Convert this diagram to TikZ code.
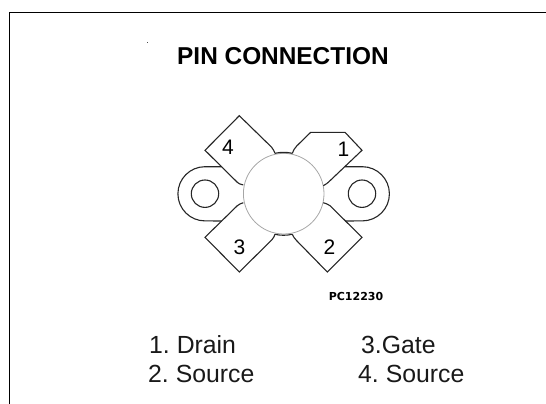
\documentclass[tikz,border=0pt]{standalone}
\usepackage{fontspec}
\setmainfont{Liberation Sans}
\newfontfamily\codefont{DejaVu Sans}
\frenchspacing
\tikzset{
    outline/.style={line width=1.1pt, black!85},
    pinlabel/.style={font=\fontsize{21}{21}\selectfont, inner sep=0pt},
    legend/.style={font=\fontsize{24.8}{24.8}\selectfont, inner sep=0pt, anchor=base west, black!90}
}
\begin{document}
\begin{tikzpicture}[x=1pt, y=-1pt]
    \useasboundingbox (0,0) rectangle (546,404);
    % frame
    \draw[line width=1.2pt] (9.5,404) -- (9.5,12.5) -- (546,12.5);
    \fill[black!70] (146.6,41.6) rectangle (147.8,42.8);
    \node[font=\fontsize{24.4}{24.4}\selectfont\bfseries, inner sep=0pt, anchor=base west] (title) at (177,65) {PIN CONNECTION};

    % body and mounting holes
    \draw[black!35, line width=0.8pt] (283.7,193.7) circle (40.3);
    \foreach \hx in {205,362}
        \draw[outline] (\hx,193.7) circle (13.7);

    % pin 4 and left ear
    \draw[outline] (243.3,185) .. controls (240,184.2) and (238.5,183.5) .. (237.3,182.3)
        -- (205,150.3) -- (239.3,115.7) -- (271.7,147.3)
        .. controls (273.5,149.5) and (274.2,151.5) .. (275,153.3);
    \draw[outline] (221.7,166.7) -- (205,166.7) arc[start angle=-90, end angle=-270, radius=27.1]
        -- (221.7,221);
    % pin 1 and right ear
    \draw[outline] (292.3,153.3) .. controls (293.2,150.5) and (294.5,148.5) .. (296.7,146)
        -- (310.7,132.3) -- (345,132.3) -- (362,150.3) -- (330,180.7)
        .. controls (328,182.7) and (326,184.5) .. (323.3,185.7);
    \draw[outline] (345,166.7) -- (362.3,166.7) arc[start angle=-90, end angle=90, radius=27.1]
        -- (345,221);
    % pin 2
    \draw[outline] (323.3,202.7) .. controls (326,203.5) and (328,204.3) .. (330,205.7)
        -- (362,237.3) -- (327.3,272) -- (296.7,240.7)
        .. controls (294.5,238.5) and (293.2,236.5) .. (292.3,234.3);
    % pin 3
    \draw[outline] (275,234.3) .. controls (274.2,236.5) and (273.5,238) .. (271.7,240)
        -- (239.3,272) -- (205,237.3) -- (237.3,205.7)
        .. controls (239,204.3) and (241,203.4) .. (243.3,202.7);
    % lead edges on the body
    \draw[outline] (275,153.3) .. controls (280.5,152) and (286.5,152) .. (292.3,153.3);
    \draw[outline] (275,234.3) .. controls (280.5,235.6) and (286.5,235.6) .. (292.3,234.3);

    % pin numbers
    \node[pinlabel] (pinone) at (343.5,149) {1};
    \node[pinlabel] (pintwo) at (329.5,247) {2};
    \node[pinlabel] (pinthree) at (239.5,247) {3};
    \node[pinlabel] (pinfour) at (228,147) {4};
    \node[font=\codefont\bfseries\fontsize{11}{11}\selectfont, inner sep=0pt] (code) at (356,296) {PC12230};

    % pin names
    \node[legend] (drain) at (149,353) {1. Drain};
    \node[legend] (sourcetwo) at (148,382) {2. Source};
    \node[legend] (gate) at (361,353) {3.Gate};
    \node[legend] (sourcefour) at (358,382) {4. Source};
\end{tikzpicture}
\end{document}
